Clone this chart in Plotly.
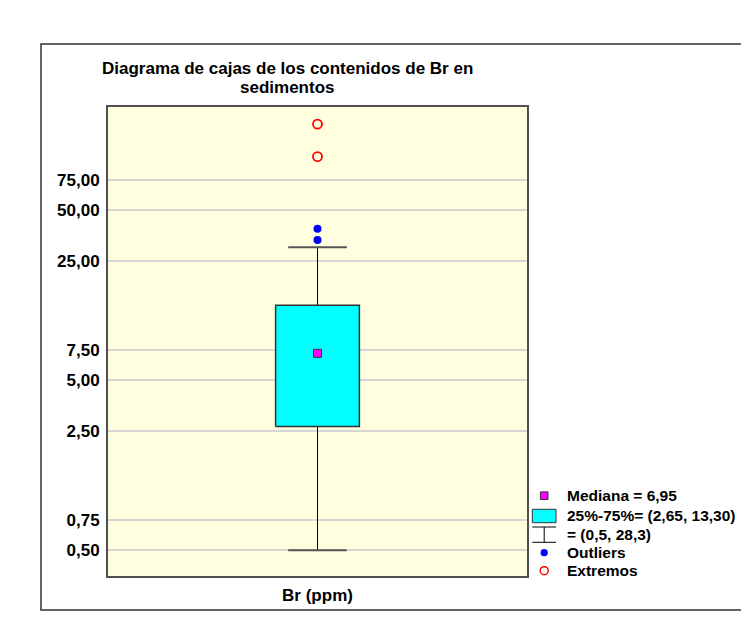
import plotly.graph_objects as go

# ---------------- data ----------------
category = "Br (ppm)"
quartiles = [2.67, 7.19, 13.8]          # Q1, median, Q3 (as drawn)
whiskers = [0.5, 30.2]                  # lower / upper whisker ends
outliers = [33.3, 38.8]
extremes = [103.0, 160.0]
y_tickvals = [0.5, 0.75, 2.5, 5.0, 7.5, 25.0, 50.0, 75.0]
y_ticktext = ["0,50", "0,75", "2,50", "5,00", "7,50", "25,00", "50,00", "75,00"]
legend_labels = ["Mediana = 6,95", "25%-75%= (2,65, 13,30)", "= (0,5, 28,3)",
                 "Outliers", "Extremos"]
title_lines = ["Diagrama de cajas de los contenidos de Br en", "sedimentos"]

# ---------------- layout constants (screen pixels) ----------------
PAGE_OFF = 8                      # default body margin of the html page
W_FIG, H_FIG = 749 - 2 * PAGE_OFF, 625 - 2 * PAGE_OFF
PL, PT, PW, PH = 108, 107, 419, 469   # plot area on screen
L, T = PL - PAGE_OFF, PT - PAGE_OFF
R, B = W_FIG - L - PW, H_FIG - T - PH
FONT = "Liberation Sans, Arial, sans-serif"
BOX_HALF = 0.1
CAP_HALF = 0.07
X0 = 0


def px(p):
    return (p - PL) / PW


def py(p):
    return (PT + PH - p) / PH


q1, med, q3 = quartiles
lo, hi = whiskers

fig = go.Figure()

# whisker line
fig.add_trace(go.Scatter(x=[X0, X0], y=[lo, hi], mode="lines",
                         line=dict(color="#000000", width=1), hoverinfo="skip"))
# caps
for v in whiskers:
    fig.add_trace(go.Scatter(x=[X0 - CAP_HALF, X0 + CAP_HALF], y=[v, v], mode="lines",
                             line=dict(color="#555555", width=2), hoverinfo="skip"))
# box
fig.add_trace(go.Scatter(
    x=[X0 - BOX_HALF, X0 + BOX_HALF, X0 + BOX_HALF, X0 - BOX_HALF, X0 - BOX_HALF],
    y=[q1, q1, q3, q3, q1], mode="lines", fill="toself", fillcolor="#00FFFF",
    line=dict(color="#333333", width=1.5), hoverinfo="skip"))
# median
fig.add_trace(go.Scatter(x=[X0], y=[med], mode="markers",
                         marker=dict(symbol="square", size=8, color="#FF00FF",
                                     line=dict(color="#333333", width=1))))
# outliers
fig.add_trace(go.Scatter(x=[X0] * len(outliers), y=outliers, mode="markers",
                         marker=dict(symbol="circle", size=8, color="#0000FF")))
# extremes
fig.add_trace(go.Scatter(x=[X0] * len(extremes), y=extremes, mode="markers",
                         marker=dict(symbol="circle-open", size=9, color="#FF0000",
                                     line=dict(width=1.8))))

shapes = []
annotations = []

# outer frame
shapes.append(dict(type="rect", xref="paper", yref="paper",
                   x0=px(41), x1=px(770), y0=py(610), y1=py(44),
                   line=dict(color="#333333", width=1.5), layer="below"))

# title (two lines)
for txt, yc in zip(title_lines, [68.5, 87]):
    annotations.append(dict(text="<b>%s</b>" % txt, xref="paper", yref="paper",
                            x=px(287), y=py(yc), xanchor="center", yanchor="middle",
                            showarrow=False, font=dict(family=FONT, size=17, color="#000000")))

# ---- manual legend ----
rows_y = [495.7, 515.7, 534.5, 552.7, 570.7]
gx = 544.2
# median square
shapes.append(dict(type="rect", xref="paper", yref="paper",
                   x0=px(gx - 3.8), x1=px(gx + 3.8), y0=py(rows_y[0] + 3.8), y1=py(rows_y[0] - 3.8),
                   fillcolor="#FF00FF", line=dict(color="#333333", width=1)))
# cyan rect
shapes.append(dict(type="rect", xref="paper", yref="paper",
                   x0=px(532.3), x1=px(556), y0=py(522.7), y1=py(509.3),
                   fillcolor="#00FFFF", line=dict(color="#333333", width=1)))
# whisker glyph
for yy in (527, 542.3):
    shapes.append(dict(type="line", xref="paper", yref="paper",
                       x0=px(532.3), x1=px(556), y0=py(yy), y1=py(yy),
                       line=dict(color="#000000", width=1)))
shapes.append(dict(type="line", xref="paper", yref="paper",
                   x0=px(gx), x1=px(gx), y0=py(527), y1=py(542.3),
                   line=dict(color="#000000", width=1)))
# blue dot
shapes.append(dict(type="circle", xref="paper", yref="paper",
                   x0=px(gx - 3.6), x1=px(gx + 3.6), y0=py(rows_y[3] + 3.6), y1=py(rows_y[3] - 3.6),
                   fillcolor="#0000FF", line=dict(color="#0000FF", width=0)))
# red open circle
shapes.append(dict(type="circle", xref="paper", yref="paper",
                   x0=px(gx - 4), x1=px(gx + 4), y0=py(rows_y[4] + 4), y1=py(rows_y[4] - 4),
                   fillcolor="rgba(0,0,0,0)", line=dict(color="#FF0000", width=1.5)))

for txt, yc in zip(legend_labels, rows_y):
    annotations.append(dict(text="<b>%s</b>" % txt, xref="paper", yref="paper",
                            x=px(565), y=py(yc), xanchor="left", yanchor="middle",
                            showarrow=False, font=dict(family=FONT, size=15.5, color="#000000")))

fig.update_layout(
    width=W_FIG, height=H_FIG,
    margin=dict(l=L, r=R, t=T, b=B, pad=0),
    paper_bgcolor="#FFFFFF", plot_bgcolor="#FFFFE0",
    showlegend=False,
    shapes=shapes, annotations=annotations,
    font=dict(family=FONT, size=16, color="#000000"),
    xaxis=dict(range=[-0.5, 0.5], tickvals=[X0], ticktext=["<b>%s</b>" % category],
               showgrid=False, zeroline=False, ticks="", ticklabelstandoff=3,
               tickfont=dict(family=FONT, size=17, color="#000000"),
               showline=True, mirror=True, linecolor="#505050", linewidth=2),
    yaxis=dict(type="log", range=[-0.4523, 2.3048], tickvals=y_tickvals,
               ticktext=["<b>%s</b>" % t for t in y_ticktext],
               showgrid=True, gridcolor="#D6D6D6", gridwidth=1.5, zeroline=False,
               ticks="", ticklabelstandoff=3,
               tickfont=dict(family=FONT, size=17, color="#000000"),
               showline=True, mirror=True, linecolor="#505050", linewidth=2),
)

fig.write_html("out.html")
